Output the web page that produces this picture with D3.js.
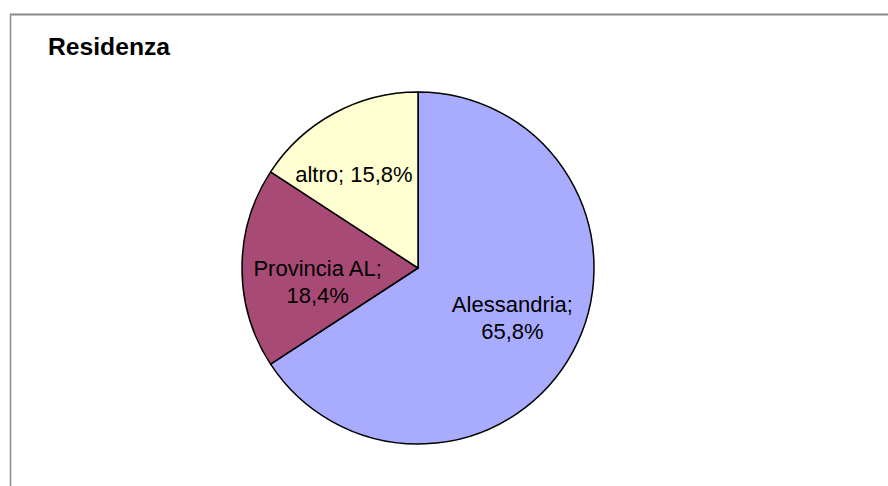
<!DOCTYPE html>
<html>
<head>
<meta charset="utf-8">
<script src="https://cdn.jsdelivr.net/npm/d3@7"></script>
<style>
  body { margin: 0; background: #fff; }
  svg text { font-family: "Liberation Sans", Arial, sans-serif; }
</style>
</head>
<body>
<svg id="chart"></svg>
<script>
// chart size
const width = 888;
const height = 486;

// data
const categories = ["Alessandria", "Provincia AL", "altro"];
const values = [65.8, 18.4, 15.8];
const labelLines = [["Alessandria;", "65,8%"], ["Provincia AL;", "18,4%"], ["altro; 15,8%"]];
const colors = ["#a9abfe", "#a84a76", "#ffffd2"];

const cx = 418, cy = 268, radius = 176;

// small nudges for where the labels sit inside each slice
const labelNudge = {
    "Alessandria": [0, -2],
    "Provincia AL": [7, 13],
    "altro": [-13, 0]
};

const svg = d3.select("#chart")
    .attr("width", width)
    .attr("height", height);

// frame lines (top and left)
svg.append("line")
    .attr("x1", 10).attr("x2", width)
    .attr("y1", 14.5).attr("y2", 14.5)
    .attr("stroke", "#8a8a8a").attr("stroke-width", 2);
svg.append("line")
    .attr("x1", 10.5).attr("x2", 10.5)
    .attr("y1", 14).attr("y2", height)
    .attr("stroke", "#8a8a8a").attr("stroke-width", 1.5);

// title
svg.append("text")
    .attr("x", 48)
    .attr("y", 55)
    .attr("font-size", 23)
    .attr("font-weight", "bold")
    .attr("fill", "#000")
    .attr("textLength", 122)
    .attr("lengthAdjust", "spacingAndGlyphs")
    .text("Residenza");

const data = categories.map((c, i) => ({ name: c, value: values[i], lines: labelLines[i], color: colors[i] }));

const pie = d3.pie()
    .sort(null)
    .value(d => d.value);

const arc = d3.arc()
    .innerRadius(0)
    .outerRadius(radius);

const labelArc = d3.arc()
    .innerRadius(radius * 0.61)
    .outerRadius(radius * 0.61);

const g = svg.append("g")
    .attr("transform", `translate(${cx},${cy})`);

const arcs = pie(data);

g.selectAll("path")
    .data(arcs)
    .join("path")
    .attr("d", arc)
    .attr("fill", d => d.data.color)
    .attr("stroke", "#000")
    .attr("stroke-width", 1.5)
    .attr("stroke-linejoin", "round");

const lineH = 27;
const labels = g.selectAll("text.label")
    .data(arcs)
    .join("text")
    .attr("class", "label")
    .attr("font-size", 22)
    .attr("fill", "#000")
    .attr("text-anchor", "middle")
    .attr("transform", d => {
        const [x, y] = labelArc.centroid(d);
        const [dx, dy] = labelNudge[d.data.name];
        return `translate(${x + dx},${y + dy})`;
    });

labels.each(function (d) {
    const n = d.data.lines.length;
    d3.select(this).selectAll("tspan")
        .data(d.data.lines)
        .join("tspan")
        .attr("x", 0)
        .attr("y", (_, i) => (i - (n - 1) / 2) * lineH + 8)
        .text(t => t);
});
</script>
</body>
</html>
